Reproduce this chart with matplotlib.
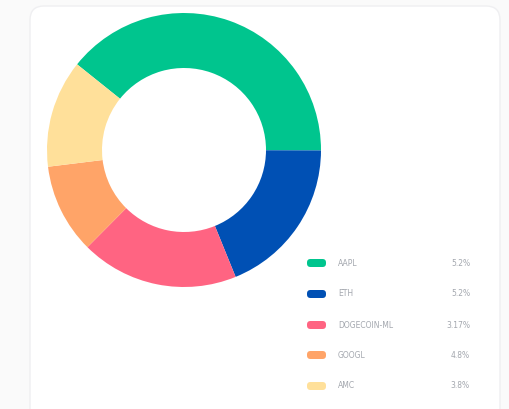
import matplotlib
matplotlib.use("Agg")
import matplotlib.pyplot as plt
from matplotlib.patches import FancyBboxPatch

labels = ["AAPL", "ETH", "DOGECOIN-ML", "GOOGL", "AMC"]
shares = [39.3, 18.8, 18.6, 10.6, 12.7]
value_text = ["5.2%", "5.2%", "3.17%", "4.8%", "3.8%"]
colors = ["#00c58e", "#0050b4", "#ff6482", "#ffa468", "#ffe09a"]

W, H = 510, 409
fig = plt.figure(figsize=(W / 100, H / 100), dpi=100)
fig.patch.set_facecolor("#fafafa")
ax = fig.add_axes([0, 0, 1, 1])
ax.set_facecolor("#fafafa")

# card
card = FancyBboxPatch((30, -20), 470, 423, boxstyle="round,pad=0,rounding_size=14",
                      facecolor="white", edgecolor="#efeff1", linewidth=1.0, zorder=0)
ax.add_patch(card)

cx, cy = 184, H - 150
ax.pie(shares, colors=colors, startangle=141.3, counterclock=False,
       center=(cx, cy), radius=137, frame=True,
       wedgeprops=dict(width=55, edgecolor="none", linewidth=0))

rows = [263, 294, 325, 355, 386]
for lab, val, col, y in zip(labels, value_text, colors, rows):
    yy = H - y
    ax.add_patch(FancyBboxPatch((307, yy - 4), 19, 8, boxstyle="round,pad=0,rounding_size=3.5",
                                facecolor=col, edgecolor="none", zorder=3))
    ax.text(338, yy, lab, fontsize=5.5, color="#a3a7ae", va="center", ha="left")
    ax.text(470, yy, val, fontsize=5.5, color="#a3a7ae", va="center", ha="right")

ax.set_xlim(0, W)
ax.set_ylim(0, H)
ax.set_aspect("auto")
ax.axis("off")
fig.savefig("out.png", dpi=100, facecolor=fig.get_facecolor())
